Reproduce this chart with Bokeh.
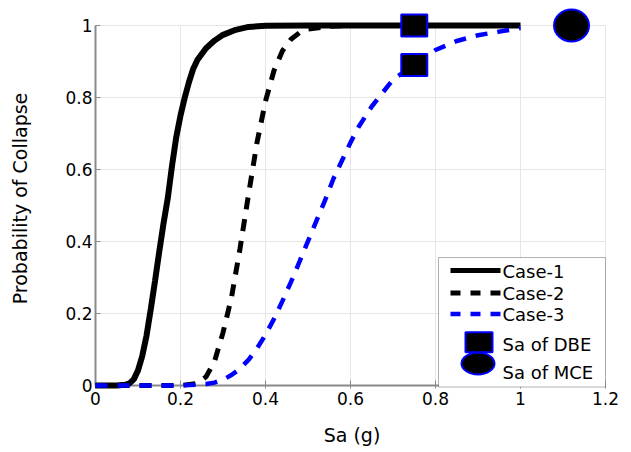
from bokeh.plotting import figure
from bokeh.models import Range1d, FixedTicker, Label, BoxAnnotation
from bokeh.embed import file_html
from bokeh.resources import INLINE

# ---------------- data ----------------
sa_case1 = [0.0, 0.05, 0.07, 0.08, 0.09, 0.10, 0.11, 0.12, 0.13, 0.14, 0.15, 0.16,
            0.17, 0.18, 0.19, 0.20, 0.21, 0.22, 0.23, 0.24, 0.26, 0.28, 0.30, 0.33,
            0.36, 0.40, 0.50, 0.60, 0.80, 1.00]
pc_case1 = [0.0, 0.0, 0.002, 0.006, 0.017, 0.042, 0.082, 0.138, 0.212, 0.290, 0.372, 0.450,
            0.520, 0.610, 0.690, 0.750, 0.800, 0.843, 0.880, 0.905, 0.937, 0.958, 0.974, 0.988,
            0.996, 0.999, 1.0, 1.0, 1.0, 1.0]

sa_case2 = [0.0, 0.20, 0.24, 0.26, 0.28, 0.30, 0.32, 0.34, 0.36, 0.38, 0.40, 0.42,
            0.44, 0.46, 0.48, 0.50, 0.55, 0.60, 0.80, 1.00]
pc_case2 = [0.0, 0.0, 0.006, 0.024, 0.067, 0.147, 0.245, 0.380, 0.530, 0.675, 0.790, 0.875,
            0.930, 0.962, 0.980, 0.990, 0.998, 1.0, 1.0, 1.0]

sa_case3 = [0.0, 0.20, 0.26, 0.28, 0.30, 0.32, 0.34, 0.36, 0.38, 0.40, 0.42, 0.44,
            0.46, 0.48, 0.50, 0.52, 0.54, 0.56, 0.58, 0.60, 0.62, 0.65, 0.70, 0.75,
            0.80, 0.85, 0.90, 0.95, 1.00]
pc_case3 = [0.0, 0.0, 0.004, 0.008, 0.016, 0.029, 0.047, 0.071, 0.103, 0.141, 0.185, 0.235,
            0.288, 0.344, 0.401, 0.458, 0.514, 0.575, 0.625, 0.675, 0.720, 0.775, 0.850, 0.890,
            0.932, 0.957, 0.973, 0.983, 0.993]

dbe_sa = [0.75, 0.75]
dbe_pc = [1.0, 0.89]
mce_sa = [1.12]
mce_pc = [1.0]

x_ticks = [0.0, 0.2, 0.4, 0.6, 0.8, 1.0, 1.2]
x_tick_labels = ["0", "0.2", "0.4", "0.6", "0.8", "1", "1.2"]
y_ticks = [0.0, 0.2, 0.4, 0.6, 0.8, 1.0]
y_tick_labels = ["0", "0.2", "0.4", "0.6", "0.8", "1"]

series_names = ["Case-1", "Case-2", "Case-3"]
marker_names = ["Sa of DBE", "Sa of MCE"]

# ---------------- layout / style ----------------
FONT = "DejaVu Sans"
FS_TICK = "17px"
FS_LABEL = "19px"
FS_LEG = "18px"
W, H = 631, 452
BL, BR, BT, BB = 95, 23, 8, 64
X_START, X_END = 0.0, 1.207
Y_START, Y_END = -0.0083, 1.0472
FRAME_W = W - BL - BR
FRAME_H = H - BT - BB
PAGE_LEFT = BL
PAGE_TOP = BT
BLUE = "#0000ff"
AXIS_GRAY = "#8a8a8a"
GRID_GRAY = "#e6e6e6"


def lx(px):
    return X_START + (px - PAGE_LEFT) * (X_END - X_START) / FRAME_W


def ly(py):
    return Y_END - (py - PAGE_TOP) * (Y_END - Y_START) / FRAME_H


p = figure(width=W, height=H, x_range=Range1d(X_START, X_END), y_range=Range1d(Y_START, Y_END),
           output_backend="svg", toolbar_location=None,
           min_border_left=BL, min_border_right=BR, min_border_top=BT, min_border_bottom=BB,
           x_axis_label="Sa (g)", y_axis_label="Probability of Collapse")
p.outline_line_color = None
p.background_fill_color = "white"
p.border_fill_color = "white"
p.xgrid.visible = False
p.ygrid.visible = False

for ax, ticks, labels in ((p.xaxis[0], x_ticks, x_tick_labels), (p.yaxis[0], y_ticks, y_tick_labels)):
    ax.ticker = FixedTicker(ticks=ticks)
    ax.major_label_overrides = {t: l for t, l in zip(ticks, labels)}
    ax.bounds = (ticks[0], ticks[-1])
    ax.axis_line_color = AXIS_GRAY
    ax.axis_line_width = 2
    ax.major_tick_line_color = AXIS_GRAY
    ax.major_tick_line_width = 1
    ax.major_tick_in = 5
    ax.major_tick_out = 0
    ax.minor_tick_line_color = None
    ax.major_label_text_font = FONT
    ax.major_label_text_font_size = FS_TICK
    ax.major_label_text_color = "black"
    ax.axis_label_text_font = FONT
    ax.axis_label_text_font_size = FS_LABEL
    ax.axis_label_text_font_style = "normal"
    ax.axis_label_text_color = "black"

# x axis line drawn at y = 0 (the frame reaches a little below zero)
p.xaxis[0].axis_line_color = None
p.xaxis[0].major_tick_in = 8
p.xaxis[0].major_label_standoff = 3
p.xaxis[0].axis_label_standoff = 16
p.yaxis[0].major_label_standoff = 3
p.yaxis[0].axis_label_standoff = 31

# grid lines (from the tick arrays), ending at the last ticks
p.segment(x0=x_ticks[1:], y0=y_ticks[0], x1=x_ticks[1:], y1=y_ticks[-1],
          line_color=GRID_GRAY, line_width=1, level="underlay")
p.segment(x0=x_ticks[0], y0=y_ticks[1:], x1=x_ticks[-1], y1=y_ticks[1:],
          line_color=GRID_GRAY, line_width=1, level="underlay")
p.segment(x0=[x_ticks[0]], y0=[y_ticks[0]], x1=[x_ticks[-1]], y1=[y_ticks[0]],
          line_color=AXIS_GRAY, line_width=2)

# curves
p.line(sa_case1, pc_case1, line_color="black", line_width=6, level="overlay")
p.line(sa_case2, pc_case2, line_color="black", line_width=5, line_dash="12 10", level="overlay")
p.line(sa_case3, pc_case3, line_color=BLUE, line_width=4.5, line_dash="12 10", level="overlay")

# markers
p.ellipse(x=mce_sa, y=mce_pc, width=35, height=32, width_units="screen", height_units="screen",
          fill_color="black", line_color=BLUE, line_width=2, level="overlay")
p.rect(x=dbe_sa, y=dbe_pc, width=26, height=22, width_units="screen", height_units="screen",
       fill_color="black", line_color=BLUE, line_width=2, level="overlay")

# ---------------- legend (drawn by hand so the markers keep their size) ----------------
box = BoxAnnotation(left=lx(438), right=lx(605), top=ly(257), bottom=ly(386.5),
                    fill_color="white", fill_alpha=1.0, line_color="black", line_width=1,
                    level="annotation")
p.add_layout(box)

LEG_X0, LEG_X1 = lx(450), lx(500)
p.line([LEG_X0, LEG_X1], [ly(270)] * 2, line_color="black", line_width=5, level="overlay")
p.line([LEG_X0, LEG_X1], [ly(292.5)] * 2, line_color="black", line_width=5, line_dash="10 10",
       level="overlay")
p.line([LEG_X0, LEG_X1], [ly(313.5)] * 2, line_color=BLUE, line_width=4.5, line_dash="10 10",
       level="overlay")
p.ellipse(x=[lx(477.5)], y=[ly(363)], width=33, height=22, width_units="screen",
          height_units="screen", fill_color="black", line_color=BLUE, line_width=2, level="overlay")
p.rect(x=[lx(478.5)], y=[ly(341.7)], width=27, height=20, width_units="screen",
       height_units="screen", fill_color="black", line_color=BLUE, line_width=2, level="overlay")

label_rows = [(series_names[0], 271), (series_names[1], 292.7), (series_names[2], 313.8),
              (marker_names[0], 344), (marker_names[1], 371.7)]
for txt, py in label_rows:
    p.add_layout(Label(x=lx(502), y=ly(py), text=txt, text_baseline="middle", text_align="left",
                       text_font=FONT, text_font_size=FS_LEG, text_color="black", level="overlay"))

open("out.html", "w").write(file_html(p, INLINE))
